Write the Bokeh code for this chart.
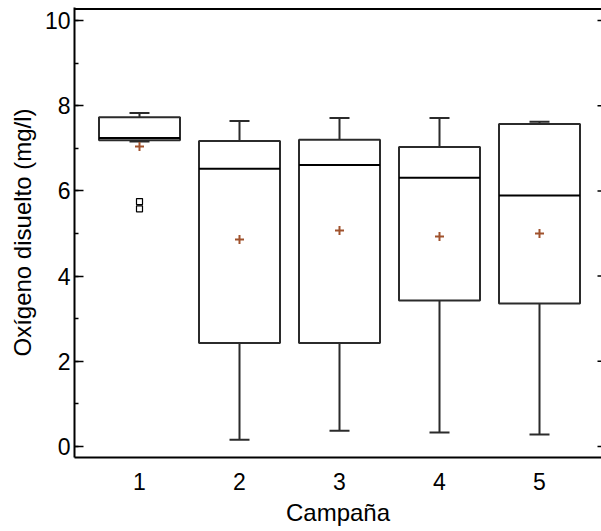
from bokeh.plotting import figure
from bokeh.models import Range1d, LinearAxis, FixedTicker, SingleIntervalTicker, ColumnDataSource
from bokeh.embed import file_html
from bokeh.resources import INLINE

# ---- data ----
campaigns = [1, 2, 3, 4, 5]
tick_labels = ["1", "2", "3", "4", "5"]
q1 = [7.19, 2.43, 2.43, 3.43, 3.36]
median = [7.24, 6.52, 6.61, 6.31, 5.89]
q3 = [7.73, 7.17, 7.20, 7.03, 7.57]
lower = [7.16, 0.16, 0.37, 0.33, 0.28]
upper = [7.83, 7.64, 7.71, 7.71, 7.62]
means = [7.04, 4.86, 5.07, 4.93, 5.00]
outlier_x = [1, 1]
outlier_y = [5.75, 5.58]
y_ticks = [0, 2, 4, 6, 8, 10]

FONT = "Liberation Sans"
BOX_W = 0.81
CAP_W = 0.2
LINE = "#2b2b2b"
X0, X1 = 0.35, 5.62
Y0, Y1 = -0.257, 10.304
TOP_LINE = 10.269

p = figure(width=601, height=528, output_backend="svg", toolbar_location=None,
           x_range=Range1d(X0, X1), y_range=Range1d(Y0, Y1),
           min_border_left=74, min_border_right=0, min_border_top=7,
           min_border_bottom=69, x_axis_type=None, y_axis_type=None)
p.outline_line_color = None
p.xgrid.visible = False
p.ygrid.visible = False
p.background_fill_color = "white"
p.border_fill_color = "white"

src = ColumnDataSource(dict(
    x=campaigns, q1=q1, med=median, q3=q3, lo=lower, hi=upper, mean=means,
    xl=[c - BOX_W / 2 for c in campaigns], xr=[c + BOX_W / 2 for c in campaigns],
    cl=[c - CAP_W / 2 for c in campaigns], cr=[c + CAP_W / 2 for c in campaigns],
))

# whiskers
p.segment(x0="x", y0="q3", x1="x", y1="hi", source=src, line_color=LINE, line_width=2)
p.segment(x0="x", y0="q1", x1="x", y1="lo", source=src, line_color=LINE, line_width=2)
p.segment(x0="cl", y0="hi", x1="cr", y1="hi", source=src, line_color=LINE, line_width=2)
p.segment(x0="cl", y0="lo", x1="cr", y1="lo", source=src, line_color=LINE, line_width=2)
# boxes
p.vbar(x="x", bottom="q1", top="q3", width=BOX_W, source=src,
       fill_color="white", line_color=LINE, line_width=2)
# medians
p.segment(x0="xl", y0="med", x1="xr", y1="med", source=src, line_color="black", line_width=2)
# means
p.scatter(x="x", y="mean", source=src, marker="cross", size=9,
          line_color="#a0522d", line_width=2)
# outliers
p.scatter(outlier_x, outlier_y, marker="square", size=6, fill_color=None,
          line_color="black", line_width=1.2)

# top frame line and right-side inward ticks
p.segment(x0=[X0], y0=[TOP_LINE], x1=[X1], y1=[TOP_LINE], line_color="black", line_width=2)
p.segment(x0=[X1 - 0.04] * len(y_ticks), y0=y_ticks, x1=[X1] * len(y_ticks), y1=y_ticks,
          line_color="black", line_width=1.5)

# axes
xax = LinearAxis(ticker=FixedTicker(ticks=campaigns),
                 major_label_overrides={c: t for c, t in zip(campaigns, tick_labels)},
                 axis_label="Campaña")
xax.major_tick_in = 0
xax.major_tick_out = 0
xax.minor_tick_in = 0
xax.minor_tick_out = 0
xax.axis_line_width = 2
xax.axis_line_color = "black"
xax.major_label_text_font = FONT
xax.major_label_text_font_size = "23px"
xax.major_label_text_color = "black"
xax.major_label_standoff = 15
xax.axis_label_text_font = FONT
xax.axis_label_text_font_size = "24px"
xax.axis_label_text_font_style = "normal"
xax.axis_label_text_color = "black"
xax.axis_label_standoff = 6
p.add_layout(xax, "below")

yax = LinearAxis(ticker=SingleIntervalTicker(interval=2, num_minor_ticks=2),
                 axis_label="Oxígeno disuelto (mg/l)")
yax.major_tick_in = 9
yax.major_tick_out = 0
yax.minor_tick_in = 4
yax.minor_tick_out = 0
yax.major_tick_line_width = 1.5
yax.minor_tick_line_width = 1.5
yax.axis_line_width = 2
yax.axis_line_color = "black"
yax.major_label_text_font = FONT
yax.major_label_text_font_size = "23px"
yax.major_label_text_color = "black"
yax.major_label_standoff = 4
yax.axis_label_text_font = FONT
yax.axis_label_text_font_size = "24px"
yax.axis_label_text_font_style = "normal"
yax.axis_label_text_color = "black"
yax.axis_label_standoff = 6
p.add_layout(yax, "left")

open("out.html", "w").write(file_html(p, INLINE))
